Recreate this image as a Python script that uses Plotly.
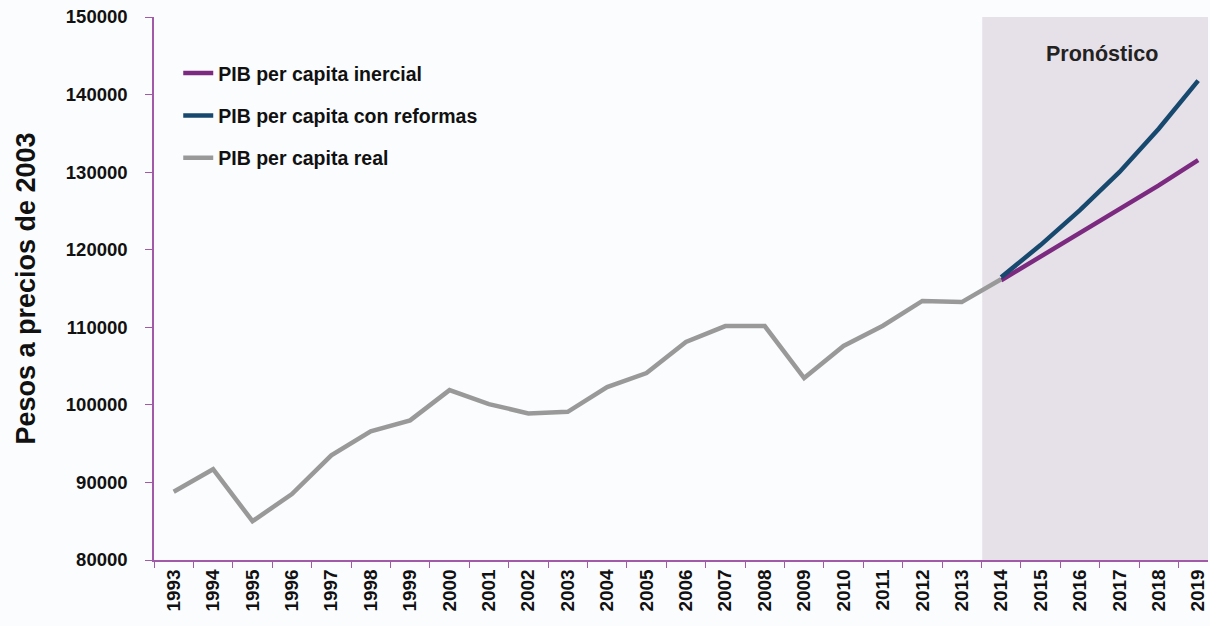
import plotly.graph_objects as go

years = [str(y) for y in range(1993, 2020)]

real_years = [str(y) for y in range(1993, 2015)]
pib_real = [88800, 91700, 85000, 88500, 93500, 96600, 98000, 101900, 100100, 98900,
            99100, 102300, 104100, 108100, 110150, 110150, 103450, 107600, 110200,
            113400, 113250, 116200]

fc_years = [str(y) for y in range(2014, 2020)]
pib_inercial = [116050, 119100, 122100, 125200, 128300, 131550]
pib_reformas = [116450, 120600, 125100, 130000, 135600, 141800]

y_ticks = [80000, 90000, 100000, 110000, 120000, 130000, 140000, 150000]
y_ticktext = [str(v) for v in y_ticks]

PURPLE = "#7b2a80"
BLUE = "#17496e"
GRAY = "#999999"
AXIS = "#a05aa8"
FONT = "Liberation Sans, Arial, sans-serif"

fig = go.Figure()
fig.add_trace(go.Scatter(x=fc_years, y=pib_inercial, mode="lines",
                         name="PIB per capita inercial", legendgroup="a",
                         line=dict(color=PURPLE, width=4.5)))
fig.add_trace(go.Scatter(x=fc_years, y=pib_reformas, mode="lines",
                         name="PIB per capita con reformas", legendgroup="b",
                         line=dict(color=BLUE, width=4.5)))
fig.add_trace(go.Scatter(x=real_years, y=pib_real, mode="lines",
                         name="PIB per capita real", legendgroup="c",
                         line=dict(color=GRAY, width=4.5)))

fig.add_shape(type="rect", xref="x", yref="y", x0=20.52, x1=27, y0=80000, y1=150000,
              fillcolor="#e6e0e8", line=dict(width=0), layer="below")

fig.add_annotation(x=23.55, y=145250, xref="x", yref="y", text="Pronóstico",
                   showarrow=False, font=dict(family=FONT, size=21.5, color="#222222", weight="bold"))

fig.update_layout(
    width=1210, height=626,
    margin=dict(l=154, r=2, t=17, b=66, autoexpand=False),
    paper_bgcolor="#fbfcfe", plot_bgcolor="#fbfcfe",
    font=dict(family=FONT, size=18, color="#111111", weight="bold"),
    showlegend=True,
    legend=dict(x=0.023, y=0.932, xanchor="left", yanchor="top",
                bgcolor="rgba(0,0,0,0)", itemwidth=30, tracegroupgap=14,
                font=dict(family=FONT, size=19.5, color="#111111", weight="bold")),
    xaxis=dict(type="category", categoryorder="array", categoryarray=years,
               range=[-0.5, 26.25], showgrid=False, zeroline=False, automargin=False,
               showline=True, linecolor=AXIS, linewidth=1.5,
               ticks="outside", tickson="boundaries", ticklen=6, tickcolor=AXIS,
               tickangle=-90, tickfont=dict(family=FONT, size=19, weight="bold")),
    yaxis=dict(range=[80000, 150000], tickvals=y_ticks, ticktext=y_ticktext,
               showgrid=False, zeroline=False, automargin=False,
               showline=True, linecolor=AXIS, linewidth=1.5,
               ticks="outside", ticklen=7, tickcolor=AXIS, ticklabelstandoff=14,
               tickfont=dict(family=FONT, size=18.5, weight="bold"),
               title=dict(text="Pesos a precios de 2003", standoff=22,
                          font=dict(family=FONT, size=27, weight="bold"))),
)

fig.write_html("out.html", config={"displayModeBar": False})

with open("out.html", "r", encoding="utf-8") as f:
    html = f.read()
html = html.replace("<head>", "<head><style>html,body{margin:0;padding:0;overflow:hidden;}</style>", 1)
with open("out.html", "w", encoding="utf-8") as f:
    f.write(html)
